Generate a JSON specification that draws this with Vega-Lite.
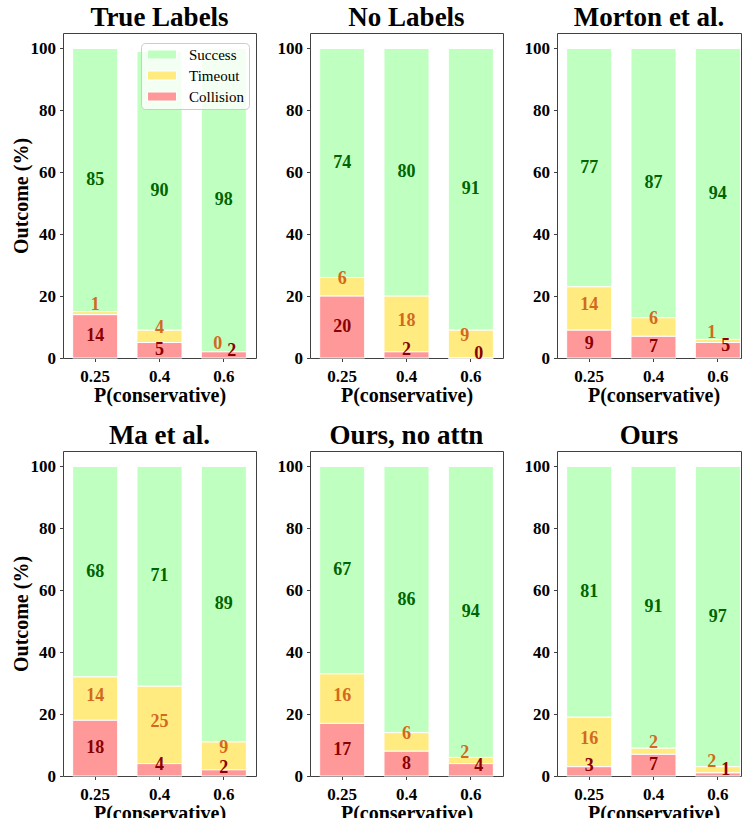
{
"$schema": "https://vega.github.io/schema/vega-lite/v6.json",
"padding": {"left": 10, "top": 3, "right": 0, "bottom": 0},
"columns": 3,
"spacing": {"row": 93, "column": 54},
"bounds": "flush",
"resolve": {"scale": {"color": "independent"}, "legend": {"color": "independent"}},
"datasets": {"d": [
{"panel": "True Labels", "p": "0.25", "outcome": "Success", "value": 85},
{"panel": "True Labels", "p": "0.25", "outcome": "Timeout", "value": 1},
{"panel": "True Labels", "p": "0.25", "outcome": "Collision", "value": 14},
{"panel": "True Labels", "p": "0.4", "outcome": "Success", "value": 90},
{"panel": "True Labels", "p": "0.4", "outcome": "Timeout", "value": 4},
{"panel": "True Labels", "p": "0.4", "outcome": "Collision", "value": 5},
{"panel": "True Labels", "p": "0.6", "outcome": "Success", "value": 98},
{"panel": "True Labels", "p": "0.6", "outcome": "Timeout", "value": 0},
{"panel": "True Labels", "p": "0.6", "outcome": "Collision", "value": 2},
{"panel": "No Labels", "p": "0.25", "outcome": "Success", "value": 74},
{"panel": "No Labels", "p": "0.25", "outcome": "Timeout", "value": 6},
{"panel": "No Labels", "p": "0.25", "outcome": "Collision", "value": 20},
{"panel": "No Labels", "p": "0.4", "outcome": "Success", "value": 80},
{"panel": "No Labels", "p": "0.4", "outcome": "Timeout", "value": 18},
{"panel": "No Labels", "p": "0.4", "outcome": "Collision", "value": 2},
{"panel": "No Labels", "p": "0.6", "outcome": "Success", "value": 91},
{"panel": "No Labels", "p": "0.6", "outcome": "Timeout", "value": 9},
{"panel": "No Labels", "p": "0.6", "outcome": "Collision", "value": 0},
{"panel": "Morton et al.", "p": "0.25", "outcome": "Success", "value": 77},
{"panel": "Morton et al.", "p": "0.25", "outcome": "Timeout", "value": 14},
{"panel": "Morton et al.", "p": "0.25", "outcome": "Collision", "value": 9},
{"panel": "Morton et al.", "p": "0.4", "outcome": "Success", "value": 87},
{"panel": "Morton et al.", "p": "0.4", "outcome": "Timeout", "value": 6},
{"panel": "Morton et al.", "p": "0.4", "outcome": "Collision", "value": 7},
{"panel": "Morton et al.", "p": "0.6", "outcome": "Success", "value": 94},
{"panel": "Morton et al.", "p": "0.6", "outcome": "Timeout", "value": 1},
{"panel": "Morton et al.", "p": "0.6", "outcome": "Collision", "value": 5},
{"panel": "Ma et al.", "p": "0.25", "outcome": "Success", "value": 68},
{"panel": "Ma et al.", "p": "0.25", "outcome": "Timeout", "value": 14},
{"panel": "Ma et al.", "p": "0.25", "outcome": "Collision", "value": 18},
{"panel": "Ma et al.", "p": "0.4", "outcome": "Success", "value": 71},
{"panel": "Ma et al.", "p": "0.4", "outcome": "Timeout", "value": 25},
{"panel": "Ma et al.", "p": "0.4", "outcome": "Collision", "value": 4},
{"panel": "Ma et al.", "p": "0.6", "outcome": "Success", "value": 89},
{"panel": "Ma et al.", "p": "0.6", "outcome": "Timeout", "value": 9},
{"panel": "Ma et al.", "p": "0.6", "outcome": "Collision", "value": 2},
{"panel": "Ours, no attn", "p": "0.25", "outcome": "Success", "value": 67},
{"panel": "Ours, no attn", "p": "0.25", "outcome": "Timeout", "value": 16},
{"panel": "Ours, no attn", "p": "0.25", "outcome": "Collision", "value": 17},
{"panel": "Ours, no attn", "p": "0.4", "outcome": "Success", "value": 86},
{"panel": "Ours, no attn", "p": "0.4", "outcome": "Timeout", "value": 6},
{"panel": "Ours, no attn", "p": "0.4", "outcome": "Collision", "value": 8},
{"panel": "Ours, no attn", "p": "0.6", "outcome": "Success", "value": 94},
{"panel": "Ours, no attn", "p": "0.6", "outcome": "Timeout", "value": 2},
{"panel": "Ours, no attn", "p": "0.6", "outcome": "Collision", "value": 4},
{"panel": "Ours", "p": "0.25", "outcome": "Success", "value": 81},
{"panel": "Ours", "p": "0.25", "outcome": "Timeout", "value": 16},
{"panel": "Ours", "p": "0.25", "outcome": "Collision", "value": 3},
{"panel": "Ours", "p": "0.4", "outcome": "Success", "value": 91},
{"panel": "Ours", "p": "0.4", "outcome": "Timeout", "value": 2},
{"panel": "Ours", "p": "0.4", "outcome": "Collision", "value": 7},
{"panel": "Ours", "p": "0.6", "outcome": "Success", "value": 97},
{"panel": "Ours", "p": "0.6", "outcome": "Timeout", "value": 2},
{"panel": "Ours", "p": "0.6", "outcome": "Collision", "value": 1}
]},
"concat": [
{
"title": "True Labels", "width": 193, "height": 325, "data": {"name": "d"},
"transform": [
 {"filter": "datum.panel === 'True Labels'"},
 {"calculate": "indexof(['Collision','Timeout','Success'], datum.outcome)", "as": "ord"},
 {"stack": "value", "groupby": ["p"], "sort": [{"field": "ord", "order": "ascending"}], "as": ["y0", "y1"]},
 {"calculate": "(datum.y0 + datum.y1) / 2", "as": "mid"},
 {"calculate": "datum.outcome === 'Success' ? 0 : datum.value", "as": "ns"},
 {"joinaggregate": [{"op": "sum", "field": "ns", "as": "ct"}], "groupby": ["p"]},
 {"calculate": "datum.p === '0.6' && datum.ct < 10", "as": "tight"}
],
"encoding": {"x": {"field": "p", "type": "ordinal", "sort": ["0.25", "0.4", "0.6"], "scale": {"paddingInner": 0.3, "paddingOuter": 0.15}, "axis": {"title": "P(conservative)", "labelAngle": 0}}},
"layer": [
 {"mark": {"type": "bar", "stroke": "white", "strokeWidth": 1}, "encoding": {
  "y": {"field": "y1", "type": "quantitative", "scale": {"domain": [0, 105], "nice": false}, "axis": {"title": "Outcome (%)", "values": [0, 20, 40, 60, 80, 100]}},
  "y2": {"field": "y0"},
  "color": {"field": "outcome", "type": "nominal", "scale": {"domain": ["Success", "Timeout", "Collision"], "range": ["#bfffbf", "#ffeb7f", "#ff9999"]},
   "legend": {"orient": "none", "legendX": 78, "legendY": 10, "title": null, "fillColor": "rgba(255,255,255,0.8)", "strokeColor": "#cccccc", "cornerRadius": 4, "padding": 4, "symbolType": "M-1,-0.9L4.8,-0.9L4.8,0.9L-1,0.9Z", "symbolSize": 100, "symbolStrokeColor": "white", "symbolStrokeWidth": 1, "symbolOpacity": 1, "labelFont": "Liberation Serif", "labelFontSize": 15, "labelFontWeight": "normal", "labelColor": "black", "labelOffset": 29, "rowPadding": 5}}
 }},
 {"transform": [{"filter": "datum.outcome === 'Success'"}], "mark": {"type": "text", "font": "Liberation Serif", "fontWeight": "bold", "fontSize": 18, "baseline": "middle", "color": "#006400"}, "encoding": {"y": {"field": "mid", "type": "quantitative", "axis": {"title": "Outcome (%)", "values": [0, 20, 40, 60, 80, 100]}}, "text": {"field": "value", "type": "quantitative"}}},
 {"transform": [{"filter": "datum.outcome === 'Collision' && !datum.tight && datum.value >= 5"}], "mark": {"type": "text", "font": "Liberation Serif", "fontWeight": "bold", "fontSize": 18, "baseline": "middle", "color": "#8b0000"}, "encoding": {"y": {"field": "mid", "type": "quantitative", "axis": {"title": "Outcome (%)", "values": [0, 20, 40, 60, 80, 100]}}, "text": {"field": "value", "type": "quantitative"}}},
 {"transform": [{"filter": "datum.outcome === 'Collision' && !datum.tight && datum.value < 5"}], "mark": {"type": "text", "font": "Liberation Serif", "fontWeight": "bold", "fontSize": 18, "baseline": "middle", "color": "#8b0000", "dy": -5}, "encoding": {"y": {"field": "mid", "type": "quantitative", "axis": {"title": "Outcome (%)", "values": [0, 20, 40, 60, 80, 100]}}, "text": {"field": "value", "type": "quantitative"}}},
 {"transform": [{"filter": "datum.outcome === 'Collision' && datum.tight"}], "mark": {"type": "text", "font": "Liberation Serif", "fontWeight": "bold", "fontSize": 18, "baseline": "middle", "color": "#8b0000", "dx": 8, "dy": -4}, "encoding": {"y": {"field": "mid", "type": "quantitative", "axis": {"title": "Outcome (%)", "values": [0, 20, 40, 60, 80, 100]}}, "text": {"field": "value", "type": "quantitative"}}},
 {"transform": [{"filter": "datum.outcome === 'Timeout' && datum.value >= 10"}], "mark": {"type": "text", "font": "Liberation Serif", "fontWeight": "bold", "fontSize": 18, "baseline": "middle", "color": "#d2691e", "dy": -3}, "encoding": {"y": {"field": "mid", "type": "quantitative", "axis": {"title": "Outcome (%)", "values": [0, 20, 40, 60, 80, 100]}}, "text": {"field": "value", "type": "quantitative"}}},
 {"transform": [{"filter": "datum.outcome === 'Timeout' && datum.value < 10 && !datum.tight"}], "mark": {"type": "text", "font": "Liberation Serif", "fontWeight": "bold", "fontSize": 18, "baseline": "middle", "color": "#d2691e", "dy": -8}, "encoding": {"y": {"field": "mid", "type": "quantitative", "axis": {"title": "Outcome (%)", "values": [0, 20, 40, 60, 80, 100]}}, "text": {"field": "value", "type": "quantitative"}}},
 {"transform": [{"filter": "datum.outcome === 'Timeout' && datum.tight"}], "mark": {"type": "text", "font": "Liberation Serif", "fontWeight": "bold", "fontSize": 18, "baseline": "middle", "color": "#d2691e", "dx": -6, "dy": -8}, "encoding": {"y": {"field": "mid", "type": "quantitative", "axis": {"title": "Outcome (%)", "values": [0, 20, 40, 60, 80, 100]}}, "text": {"field": "value", "type": "quantitative"}}}
]
},
{
"title": "No Labels", "width": 193, "height": 325, "data": {"name": "d"},
"transform": [
 {"filter": "datum.panel === 'No Labels'"},
 {"calculate": "indexof(['Collision','Timeout','Success'], datum.outcome)", "as": "ord"},
 {"stack": "value", "groupby": ["p"], "sort": [{"field": "ord", "order": "ascending"}], "as": ["y0", "y1"]},
 {"calculate": "(datum.y0 + datum.y1) / 2", "as": "mid"},
 {"calculate": "datum.outcome === 'Success' ? 0 : datum.value", "as": "ns"},
 {"joinaggregate": [{"op": "sum", "field": "ns", "as": "ct"}], "groupby": ["p"]},
 {"calculate": "datum.p === '0.6' && datum.ct < 10", "as": "tight"}
],
"encoding": {"x": {"field": "p", "type": "ordinal", "sort": ["0.25", "0.4", "0.6"], "scale": {"paddingInner": 0.3, "paddingOuter": 0.15}, "axis": {"title": "P(conservative)", "labelAngle": 0}}},
"layer": [
 {"mark": {"type": "bar", "stroke": "white", "strokeWidth": 1}, "encoding": {
  "y": {"field": "y1", "type": "quantitative", "scale": {"domain": [0, 105], "nice": false}, "axis": {"title": null, "values": [0, 20, 40, 60, 80, 100]}},
  "y2": {"field": "y0"},
  "color": {"field": "outcome", "type": "nominal", "scale": {"domain": ["Success", "Timeout", "Collision"], "range": ["#bfffbf", "#ffeb7f", "#ff9999"]}, "legend": null}
 }},
 {"transform": [{"filter": "datum.outcome === 'Success'"}], "mark": {"type": "text", "font": "Liberation Serif", "fontWeight": "bold", "fontSize": 18, "baseline": "middle", "color": "#006400"}, "encoding": {"y": {"field": "mid", "type": "quantitative", "axis": {"title": null, "values": [0, 20, 40, 60, 80, 100]}}, "text": {"field": "value", "type": "quantitative"}}},
 {"transform": [{"filter": "datum.outcome === 'Collision' && !datum.tight && datum.value >= 5"}], "mark": {"type": "text", "font": "Liberation Serif", "fontWeight": "bold", "fontSize": 18, "baseline": "middle", "color": "#8b0000"}, "encoding": {"y": {"field": "mid", "type": "quantitative", "axis": {"title": null, "values": [0, 20, 40, 60, 80, 100]}}, "text": {"field": "value", "type": "quantitative"}}},
 {"transform": [{"filter": "datum.outcome === 'Collision' && !datum.tight && datum.value < 5"}], "mark": {"type": "text", "font": "Liberation Serif", "fontWeight": "bold", "fontSize": 18, "baseline": "middle", "color": "#8b0000", "dy": -5}, "encoding": {"y": {"field": "mid", "type": "quantitative", "axis": {"title": null, "values": [0, 20, 40, 60, 80, 100]}}, "text": {"field": "value", "type": "quantitative"}}},
 {"transform": [{"filter": "datum.outcome === 'Collision' && datum.tight"}], "mark": {"type": "text", "font": "Liberation Serif", "fontWeight": "bold", "fontSize": 18, "baseline": "middle", "color": "#8b0000", "dx": 8, "dy": -4}, "encoding": {"y": {"field": "mid", "type": "quantitative", "axis": {"title": null, "values": [0, 20, 40, 60, 80, 100]}}, "text": {"field": "value", "type": "quantitative"}}},
 {"transform": [{"filter": "datum.outcome === 'Timeout' && datum.value >= 10"}], "mark": {"type": "text", "font": "Liberation Serif", "fontWeight": "bold", "fontSize": 18, "baseline": "middle", "color": "#d2691e", "dy": -3}, "encoding": {"y": {"field": "mid", "type": "quantitative", "axis": {"title": null, "values": [0, 20, 40, 60, 80, 100]}}, "text": {"field": "value", "type": "quantitative"}}},
 {"transform": [{"filter": "datum.outcome === 'Timeout' && datum.value < 10 && !datum.tight"}], "mark": {"type": "text", "font": "Liberation Serif", "fontWeight": "bold", "fontSize": 18, "baseline": "middle", "color": "#d2691e", "dy": -8}, "encoding": {"y": {"field": "mid", "type": "quantitative", "axis": {"title": null, "values": [0, 20, 40, 60, 80, 100]}}, "text": {"field": "value", "type": "quantitative"}}},
 {"transform": [{"filter": "datum.outcome === 'Timeout' && datum.tight"}], "mark": {"type": "text", "font": "Liberation Serif", "fontWeight": "bold", "fontSize": 18, "baseline": "middle", "color": "#d2691e", "dx": -6, "dy": -8}, "encoding": {"y": {"field": "mid", "type": "quantitative", "axis": {"title": null, "values": [0, 20, 40, 60, 80, 100]}}, "text": {"field": "value", "type": "quantitative"}}}
]
},
{
"title": "Morton et al.", "width": 184, "height": 325, "data": {"name": "d"},
"transform": [
 {"filter": "datum.panel === 'Morton et al.'"},
 {"calculate": "indexof(['Collision','Timeout','Success'], datum.outcome)", "as": "ord"},
 {"stack": "value", "groupby": ["p"], "sort": [{"field": "ord", "order": "ascending"}], "as": ["y0", "y1"]},
 {"calculate": "(datum.y0 + datum.y1) / 2", "as": "mid"},
 {"calculate": "datum.outcome === 'Success' ? 0 : datum.value", "as": "ns"},
 {"joinaggregate": [{"op": "sum", "field": "ns", "as": "ct"}], "groupby": ["p"]},
 {"calculate": "datum.p === '0.6' && datum.ct < 10", "as": "tight"}
],
"encoding": {"x": {"field": "p", "type": "ordinal", "sort": ["0.25", "0.4", "0.6"], "scale": {"paddingInner": 0.3, "paddingOuter": 0.15, "range": [0, 193]}, "axis": {"title": "P(conservative)", "labelAngle": 0}}},
"layer": [
 {"mark": {"type": "bar", "stroke": "white", "strokeWidth": 1}, "encoding": {
  "y": {"field": "y1", "type": "quantitative", "scale": {"domain": [0, 105], "nice": false}, "axis": {"title": null, "values": [0, 20, 40, 60, 80, 100]}},
  "y2": {"field": "y0"},
  "color": {"field": "outcome", "type": "nominal", "scale": {"domain": ["Success", "Timeout", "Collision"], "range": ["#bfffbf", "#ffeb7f", "#ff9999"]}, "legend": null}
 }},
 {"transform": [{"filter": "datum.outcome === 'Success'"}], "mark": {"type": "text", "font": "Liberation Serif", "fontWeight": "bold", "fontSize": 18, "baseline": "middle", "color": "#006400"}, "encoding": {"y": {"field": "mid", "type": "quantitative", "axis": {"title": null, "values": [0, 20, 40, 60, 80, 100]}}, "text": {"field": "value", "type": "quantitative"}}},
 {"transform": [{"filter": "datum.outcome === 'Collision' && !datum.tight && datum.value >= 5"}], "mark": {"type": "text", "font": "Liberation Serif", "fontWeight": "bold", "fontSize": 18, "baseline": "middle", "color": "#8b0000"}, "encoding": {"y": {"field": "mid", "type": "quantitative", "axis": {"title": null, "values": [0, 20, 40, 60, 80, 100]}}, "text": {"field": "value", "type": "quantitative"}}},
 {"transform": [{"filter": "datum.outcome === 'Collision' && !datum.tight && datum.value < 5"}], "mark": {"type": "text", "font": "Liberation Serif", "fontWeight": "bold", "fontSize": 18, "baseline": "middle", "color": "#8b0000", "dy": -5}, "encoding": {"y": {"field": "mid", "type": "quantitative", "axis": {"title": null, "values": [0, 20, 40, 60, 80, 100]}}, "text": {"field": "value", "type": "quantitative"}}},
 {"transform": [{"filter": "datum.outcome === 'Collision' && datum.tight"}], "mark": {"type": "text", "font": "Liberation Serif", "fontWeight": "bold", "fontSize": 18, "baseline": "middle", "color": "#8b0000", "dx": 8, "dy": -4}, "encoding": {"y": {"field": "mid", "type": "quantitative", "axis": {"title": null, "values": [0, 20, 40, 60, 80, 100]}}, "text": {"field": "value", "type": "quantitative"}}},
 {"transform": [{"filter": "datum.outcome === 'Timeout' && datum.value >= 10"}], "mark": {"type": "text", "font": "Liberation Serif", "fontWeight": "bold", "fontSize": 18, "baseline": "middle", "color": "#d2691e", "dy": -3}, "encoding": {"y": {"field": "mid", "type": "quantitative", "axis": {"title": null, "values": [0, 20, 40, 60, 80, 100]}}, "text": {"field": "value", "type": "quantitative"}}},
 {"transform": [{"filter": "datum.outcome === 'Timeout' && datum.value < 10 && !datum.tight"}], "mark": {"type": "text", "font": "Liberation Serif", "fontWeight": "bold", "fontSize": 18, "baseline": "middle", "color": "#d2691e", "dy": -8}, "encoding": {"y": {"field": "mid", "type": "quantitative", "axis": {"title": null, "values": [0, 20, 40, 60, 80, 100]}}, "text": {"field": "value", "type": "quantitative"}}},
 {"transform": [{"filter": "datum.outcome === 'Timeout' && datum.tight"}], "mark": {"type": "text", "font": "Liberation Serif", "fontWeight": "bold", "fontSize": 18, "baseline": "middle", "color": "#d2691e", "dx": -6, "dy": -8}, "encoding": {"y": {"field": "mid", "type": "quantitative", "axis": {"title": null, "values": [0, 20, 40, 60, 80, 100]}}, "text": {"field": "value", "type": "quantitative"}}}
]
},
{
"title": "Ma et al.", "width": 193, "height": 325, "data": {"name": "d"},
"transform": [
 {"filter": "datum.panel === 'Ma et al.'"},
 {"calculate": "indexof(['Collision','Timeout','Success'], datum.outcome)", "as": "ord"},
 {"stack": "value", "groupby": ["p"], "sort": [{"field": "ord", "order": "ascending"}], "as": ["y0", "y1"]},
 {"calculate": "(datum.y0 + datum.y1) / 2", "as": "mid"},
 {"calculate": "datum.outcome === 'Success' ? 0 : datum.value", "as": "ns"},
 {"joinaggregate": [{"op": "sum", "field": "ns", "as": "ct"}], "groupby": ["p"]},
 {"calculate": "datum.p === '0.6' && datum.ct < 10", "as": "tight"}
],
"encoding": {"x": {"field": "p", "type": "ordinal", "sort": ["0.25", "0.4", "0.6"], "scale": {"paddingInner": 0.3, "paddingOuter": 0.15}, "axis": {"title": "P(conservative)", "labelAngle": 0}}},
"layer": [
 {"mark": {"type": "bar", "stroke": "white", "strokeWidth": 1}, "encoding": {
  "y": {"field": "y1", "type": "quantitative", "scale": {"domain": [0, 105], "nice": false}, "axis": {"title": "Outcome (%)", "values": [0, 20, 40, 60, 80, 100]}},
  "y2": {"field": "y0"},
  "color": {"field": "outcome", "type": "nominal", "scale": {"domain": ["Success", "Timeout", "Collision"], "range": ["#bfffbf", "#ffeb7f", "#ff9999"]}, "legend": null}
 }},
 {"transform": [{"filter": "datum.outcome === 'Success'"}], "mark": {"type": "text", "font": "Liberation Serif", "fontWeight": "bold", "fontSize": 18, "baseline": "middle", "color": "#006400"}, "encoding": {"y": {"field": "mid", "type": "quantitative", "axis": {"title": "Outcome (%)", "values": [0, 20, 40, 60, 80, 100]}}, "text": {"field": "value", "type": "quantitative"}}},
 {"transform": [{"filter": "datum.outcome === 'Collision' && !datum.tight && datum.value >= 5"}], "mark": {"type": "text", "font": "Liberation Serif", "fontWeight": "bold", "fontSize": 18, "baseline": "middle", "color": "#8b0000"}, "encoding": {"y": {"field": "mid", "type": "quantitative", "axis": {"title": "Outcome (%)", "values": [0, 20, 40, 60, 80, 100]}}, "text": {"field": "value", "type": "quantitative"}}},
 {"transform": [{"filter": "datum.outcome === 'Collision' && !datum.tight && datum.value < 5"}], "mark": {"type": "text", "font": "Liberation Serif", "fontWeight": "bold", "fontSize": 18, "baseline": "middle", "color": "#8b0000", "dy": -5}, "encoding": {"y": {"field": "mid", "type": "quantitative", "axis": {"title": "Outcome (%)", "values": [0, 20, 40, 60, 80, 100]}}, "text": {"field": "value", "type": "quantitative"}}},
 {"transform": [{"filter": "datum.outcome === 'Collision' && datum.tight"}], "mark": {"type": "text", "font": "Liberation Serif", "fontWeight": "bold", "fontSize": 18, "baseline": "middle", "color": "#8b0000", "dx": 8, "dy": -4}, "encoding": {"y": {"field": "mid", "type": "quantitative", "axis": {"title": "Outcome (%)", "values": [0, 20, 40, 60, 80, 100]}}, "text": {"field": "value", "type": "quantitative"}}},
 {"transform": [{"filter": "datum.outcome === 'Timeout' && datum.value >= 10"}], "mark": {"type": "text", "font": "Liberation Serif", "fontWeight": "bold", "fontSize": 18, "baseline": "middle", "color": "#d2691e", "dy": -3}, "encoding": {"y": {"field": "mid", "type": "quantitative", "axis": {"title": "Outcome (%)", "values": [0, 20, 40, 60, 80, 100]}}, "text": {"field": "value", "type": "quantitative"}}},
 {"transform": [{"filter": "datum.outcome === 'Timeout' && datum.value < 10 && !datum.tight"}], "mark": {"type": "text", "font": "Liberation Serif", "fontWeight": "bold", "fontSize": 18, "baseline": "middle", "color": "#d2691e", "dy": -8}, "encoding": {"y": {"field": "mid", "type": "quantitative", "axis": {"title": "Outcome (%)", "values": [0, 20, 40, 60, 80, 100]}}, "text": {"field": "value", "type": "quantitative"}}},
 {"transform": [{"filter": "datum.outcome === 'Timeout' && datum.tight"}], "mark": {"type": "text", "font": "Liberation Serif", "fontWeight": "bold", "fontSize": 18, "baseline": "middle", "color": "#d2691e", "dx": -6, "dy": -8}, "encoding": {"y": {"field": "mid", "type": "quantitative", "axis": {"title": "Outcome (%)", "values": [0, 20, 40, 60, 80, 100]}}, "text": {"field": "value", "type": "quantitative"}}}
]
},
{
"title": "Ours, no attn", "width": 193, "height": 325, "data": {"name": "d"},
"transform": [
 {"filter": "datum.panel === 'Ours, no attn'"},
 {"calculate": "indexof(['Collision','Timeout','Success'], datum.outcome)", "as": "ord"},
 {"stack": "value", "groupby": ["p"], "sort": [{"field": "ord", "order": "ascending"}], "as": ["y0", "y1"]},
 {"calculate": "(datum.y0 + datum.y1) / 2", "as": "mid"},
 {"calculate": "datum.outcome === 'Success' ? 0 : datum.value", "as": "ns"},
 {"joinaggregate": [{"op": "sum", "field": "ns", "as": "ct"}], "groupby": ["p"]},
 {"calculate": "datum.p === '0.6' && datum.ct < 10", "as": "tight"}
],
"encoding": {"x": {"field": "p", "type": "ordinal", "sort": ["0.25", "0.4", "0.6"], "scale": {"paddingInner": 0.3, "paddingOuter": 0.15}, "axis": {"title": "P(conservative)", "labelAngle": 0}}},
"layer": [
 {"mark": {"type": "bar", "stroke": "white", "strokeWidth": 1}, "encoding": {
  "y": {"field": "y1", "type": "quantitative", "scale": {"domain": [0, 105], "nice": false}, "axis": {"title": null, "values": [0, 20, 40, 60, 80, 100]}},
  "y2": {"field": "y0"},
  "color": {"field": "outcome", "type": "nominal", "scale": {"domain": ["Success", "Timeout", "Collision"], "range": ["#bfffbf", "#ffeb7f", "#ff9999"]}, "legend": null}
 }},
 {"transform": [{"filter": "datum.outcome === 'Success'"}], "mark": {"type": "text", "font": "Liberation Serif", "fontWeight": "bold", "fontSize": 18, "baseline": "middle", "color": "#006400"}, "encoding": {"y": {"field": "mid", "type": "quantitative", "axis": {"title": null, "values": [0, 20, 40, 60, 80, 100]}}, "text": {"field": "value", "type": "quantitative"}}},
 {"transform": [{"filter": "datum.outcome === 'Collision' && !datum.tight && datum.value >= 5"}], "mark": {"type": "text", "font": "Liberation Serif", "fontWeight": "bold", "fontSize": 18, "baseline": "middle", "color": "#8b0000"}, "encoding": {"y": {"field": "mid", "type": "quantitative", "axis": {"title": null, "values": [0, 20, 40, 60, 80, 100]}}, "text": {"field": "value", "type": "quantitative"}}},
 {"transform": [{"filter": "datum.outcome === 'Collision' && !datum.tight && datum.value < 5"}], "mark": {"type": "text", "font": "Liberation Serif", "fontWeight": "bold", "fontSize": 18, "baseline": "middle", "color": "#8b0000", "dy": -5}, "encoding": {"y": {"field": "mid", "type": "quantitative", "axis": {"title": null, "values": [0, 20, 40, 60, 80, 100]}}, "text": {"field": "value", "type": "quantitative"}}},
 {"transform": [{"filter": "datum.outcome === 'Collision' && datum.tight"}], "mark": {"type": "text", "font": "Liberation Serif", "fontWeight": "bold", "fontSize": 18, "baseline": "middle", "color": "#8b0000", "dx": 8, "dy": -4}, "encoding": {"y": {"field": "mid", "type": "quantitative", "axis": {"title": null, "values": [0, 20, 40, 60, 80, 100]}}, "text": {"field": "value", "type": "quantitative"}}},
 {"transform": [{"filter": "datum.outcome === 'Timeout' && datum.value >= 10"}], "mark": {"type": "text", "font": "Liberation Serif", "fontWeight": "bold", "fontSize": 18, "baseline": "middle", "color": "#d2691e", "dy": -3}, "encoding": {"y": {"field": "mid", "type": "quantitative", "axis": {"title": null, "values": [0, 20, 40, 60, 80, 100]}}, "text": {"field": "value", "type": "quantitative"}}},
 {"transform": [{"filter": "datum.outcome === 'Timeout' && datum.value < 10 && !datum.tight"}], "mark": {"type": "text", "font": "Liberation Serif", "fontWeight": "bold", "fontSize": 18, "baseline": "middle", "color": "#d2691e", "dy": -8}, "encoding": {"y": {"field": "mid", "type": "quantitative", "axis": {"title": null, "values": [0, 20, 40, 60, 80, 100]}}, "text": {"field": "value", "type": "quantitative"}}},
 {"transform": [{"filter": "datum.outcome === 'Timeout' && datum.tight"}], "mark": {"type": "text", "font": "Liberation Serif", "fontWeight": "bold", "fontSize": 18, "baseline": "middle", "color": "#d2691e", "dx": -6, "dy": -8}, "encoding": {"y": {"field": "mid", "type": "quantitative", "axis": {"title": null, "values": [0, 20, 40, 60, 80, 100]}}, "text": {"field": "value", "type": "quantitative"}}}
]
},
{
"title": "Ours", "width": 184, "height": 325, "data": {"name": "d"},
"transform": [
 {"filter": "datum.panel === 'Ours'"},
 {"calculate": "indexof(['Collision','Timeout','Success'], datum.outcome)", "as": "ord"},
 {"stack": "value", "groupby": ["p"], "sort": [{"field": "ord", "order": "ascending"}], "as": ["y0", "y1"]},
 {"calculate": "(datum.y0 + datum.y1) / 2", "as": "mid"},
 {"calculate": "datum.outcome === 'Success' ? 0 : datum.value", "as": "ns"},
 {"joinaggregate": [{"op": "sum", "field": "ns", "as": "ct"}], "groupby": ["p"]},
 {"calculate": "datum.p === '0.6' && datum.ct < 10", "as": "tight"}
],
"encoding": {"x": {"field": "p", "type": "ordinal", "sort": ["0.25", "0.4", "0.6"], "scale": {"paddingInner": 0.3, "paddingOuter": 0.15, "range": [0, 193]}, "axis": {"title": "P(conservative)", "labelAngle": 0}}},
"layer": [
 {"mark": {"type": "bar", "stroke": "white", "strokeWidth": 1}, "encoding": {
  "y": {"field": "y1", "type": "quantitative", "scale": {"domain": [0, 105], "nice": false}, "axis": {"title": null, "values": [0, 20, 40, 60, 80, 100]}},
  "y2": {"field": "y0"},
  "color": {"field": "outcome", "type": "nominal", "scale": {"domain": ["Success", "Timeout", "Collision"], "range": ["#bfffbf", "#ffeb7f", "#ff9999"]}, "legend": null}
 }},
 {"transform": [{"filter": "datum.outcome === 'Success'"}], "mark": {"type": "text", "font": "Liberation Serif", "fontWeight": "bold", "fontSize": 18, "baseline": "middle", "color": "#006400"}, "encoding": {"y": {"field": "mid", "type": "quantitative", "axis": {"title": null, "values": [0, 20, 40, 60, 80, 100]}}, "text": {"field": "value", "type": "quantitative"}}},
 {"transform": [{"filter": "datum.outcome === 'Collision' && !datum.tight && datum.value >= 5"}], "mark": {"type": "text", "font": "Liberation Serif", "fontWeight": "bold", "fontSize": 18, "baseline": "middle", "color": "#8b0000"}, "encoding": {"y": {"field": "mid", "type": "quantitative", "axis": {"title": null, "values": [0, 20, 40, 60, 80, 100]}}, "text": {"field": "value", "type": "quantitative"}}},
 {"transform": [{"filter": "datum.outcome === 'Collision' && !datum.tight && datum.value < 5"}], "mark": {"type": "text", "font": "Liberation Serif", "fontWeight": "bold", "fontSize": 18, "baseline": "middle", "color": "#8b0000", "dy": -5}, "encoding": {"y": {"field": "mid", "type": "quantitative", "axis": {"title": null, "values": [0, 20, 40, 60, 80, 100]}}, "text": {"field": "value", "type": "quantitative"}}},
 {"transform": [{"filter": "datum.outcome === 'Collision' && datum.tight"}], "mark": {"type": "text", "font": "Liberation Serif", "fontWeight": "bold", "fontSize": 18, "baseline": "middle", "color": "#8b0000", "dx": 8, "dy": -4}, "encoding": {"y": {"field": "mid", "type": "quantitative", "axis": {"title": null, "values": [0, 20, 40, 60, 80, 100]}}, "text": {"field": "value", "type": "quantitative"}}},
 {"transform": [{"filter": "datum.outcome === 'Timeout' && datum.value >= 10"}], "mark": {"type": "text", "font": "Liberation Serif", "fontWeight": "bold", "fontSize": 18, "baseline": "middle", "color": "#d2691e", "dy": -3}, "encoding": {"y": {"field": "mid", "type": "quantitative", "axis": {"title": null, "values": [0, 20, 40, 60, 80, 100]}}, "text": {"field": "value", "type": "quantitative"}}},
 {"transform": [{"filter": "datum.outcome === 'Timeout' && datum.value < 10 && !datum.tight"}], "mark": {"type": "text", "font": "Liberation Serif", "fontWeight": "bold", "fontSize": 18, "baseline": "middle", "color": "#d2691e", "dy": -8}, "encoding": {"y": {"field": "mid", "type": "quantitative", "axis": {"title": null, "values": [0, 20, 40, 60, 80, 100]}}, "text": {"field": "value", "type": "quantitative"}}},
 {"transform": [{"filter": "datum.outcome === 'Timeout' && datum.tight"}], "mark": {"type": "text", "font": "Liberation Serif", "fontWeight": "bold", "fontSize": 18, "baseline": "middle", "color": "#d2691e", "dx": -6, "dy": -8}, "encoding": {"y": {"field": "mid", "type": "quantitative", "axis": {"title": null, "values": [0, 20, 40, 60, 80, 100]}}, "text": {"field": "value", "type": "quantitative"}}}
]
}
],
"config": {
 "font": "Liberation Serif",
 "background": "white",
 "view": {"stroke": "#404040", "strokeWidth": 1},
 "axis": {"domain": false, "grid": false, "labelFont": "Liberation Serif", "labelFontWeight": "bold", "labelFontSize": 17, "labelColor": "black", "titleFont": "Liberation Serif", "titleFontWeight": "bold", "titleFontSize": 20, "titleColor": "black", "tickColor": "#404040", "tickSize": 3.5, "ticks": true},
 "axisX": {"labelPadding": 7, "titlePadding": 1},
 "axisY": {"labelPadding": 4, "titlePadding": -1},
 "title": {"font": "Liberation Serif", "fontSize": 27, "fontWeight": "bold", "color": "black", "offset": 1, "anchor": "middle"}
}
}
